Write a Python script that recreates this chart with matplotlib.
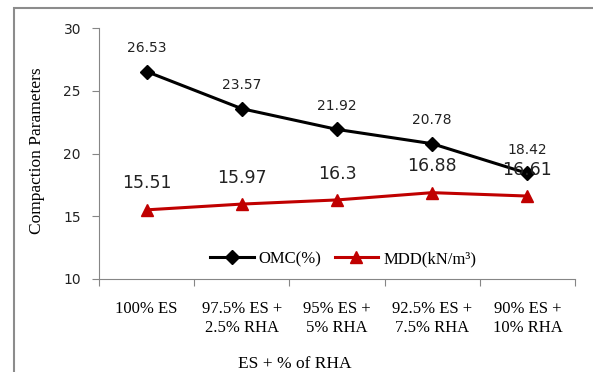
import matplotlib
matplotlib.use("Agg")
import matplotlib.pyplot as plt
from matplotlib.patches import Rectangle

# data
categories = ["100% ES", "97.5% ES +\n2.5% RHA", "95% ES +\n5% RHA",
              "92.5% ES +\n7.5% RHA", "90% ES +\n10% RHA"]
omc = [26.53, 23.57, 21.92, 20.78, 18.42]
mdd = [15.51, 15.97, 16.3, 16.88, 16.61]
omc_labels = ["26.53", "23.57", "21.92", "20.78", "18.42"]
mdd_labels = ["15.51", "15.97", "16.3", "16.88", "16.61"]

serif = "Liberation Serif"
sans = "DejaVu Sans"
red = "#C00000"
grey = "#868686"

fig = plt.figure(figsize=(5.93, 3.72), dpi=100)
fig.patches.append(Rectangle((14 / 593, -0.1), 1.2, 1 - 8 / 372 + 0.1,
                             transform=fig.transFigure, fill=False,
                             edgecolor="#8c8c8c", linewidth=1.5))
ax = fig.add_axes([99 / 593, 1 - 279 / 372, 476 / 593, 251 / 372])

x = list(range(len(categories)))
ax.plot(x, omc, color="black", linewidth=2.2, marker="D", markersize=7,
        label="OMC(%)")
ax.plot(x, mdd, color=red, linewidth=2.2, marker="^", markersize=8.5,
        label="MDD(kN/m³)")

for i in x:
    ax.annotate(omc_labels[i], (i, omc[i]), xytext=(0, 17), textcoords="offset points",
                ha="center", va="center", fontsize=10, color="#222222", family=sans)
    ax.annotate(mdd_labels[i], (i, mdd[i]), xytext=(0, 19), textcoords="offset points",
                ha="center", va="center", fontsize=12.5, color="#222222", family=sans)

ax.set_xlim(-0.5, len(categories) - 0.5)
ax.set_ylim(10, 30)
ax.set_yticks([10, 15, 20, 25, 30])
ax.set_xticks([i - 0.5 for i in range(len(categories) + 1)])
ax.set_xticklabels([])
ax.set_xticks(x, minor=True)
ax.set_xticklabels(categories, minor=True, family=serif, fontsize=12)
ax.tick_params(axis="x", which="minor", length=0, pad=16)
ax.tick_params(axis="x", which="major", length=5, color=grey)
ax.tick_params(axis="y", length=5, color=grey, labelsize=10, labelcolor="#222222", pad=8)

for s in ["top", "right"]:
    ax.spines[s].set_visible(False)
for s in ["left", "bottom"]:
    ax.spines[s].set_color(grey)

ax.set_ylabel("Compaction Parameters", family=serif, fontsize=12.5)
ax.yaxis.set_label_coords(-0.130, 0.51)
ax.yaxis.label.set_va("center")
ax.set_xlabel("ES + % of RHA", family=serif, fontsize=12.5)
ax.xaxis.set_label_coords(0.412, -0.339)
ax.xaxis.label.set_va("center")

ax.legend(loc="center", bbox_to_anchor=(0.513, 0.08), ncol=2, frameon=False,
          prop={"family": serif, "size": 12}, handlelength=2.6, columnspacing=0.8,
          handletextpad=0.3)

fig.savefig("out.png", dpi=100)
